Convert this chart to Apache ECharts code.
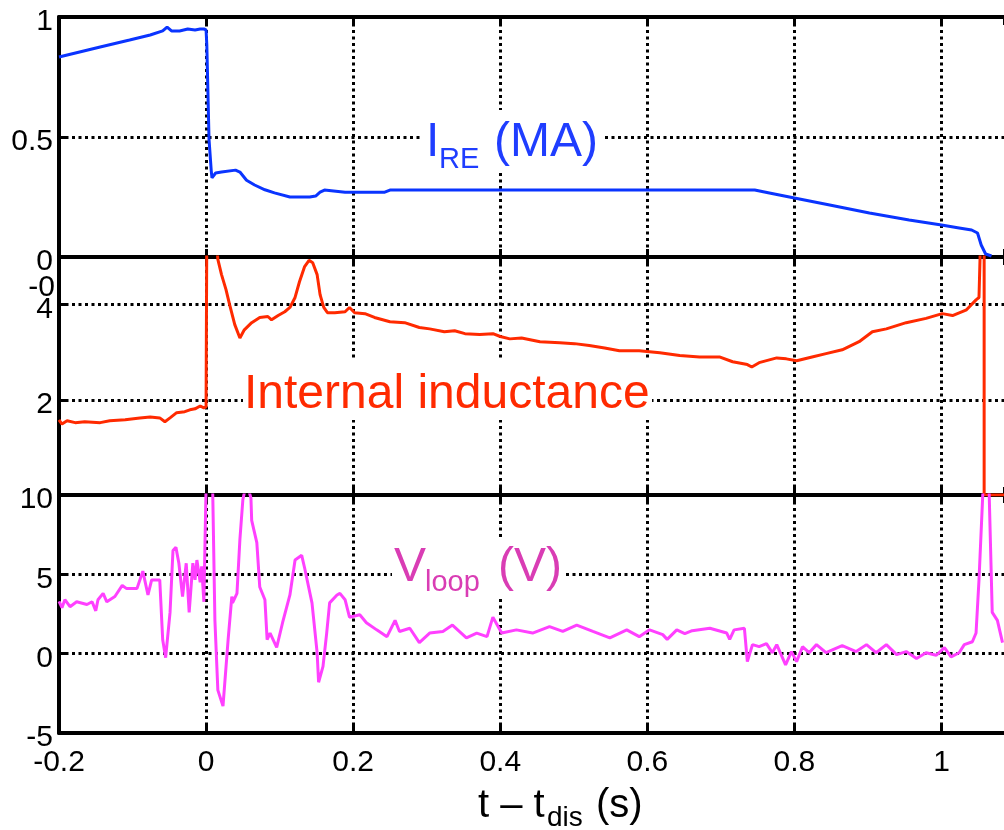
<!DOCTYPE html>
<html>
<head>
<meta charset="utf-8">
<script src="https://cdn.jsdelivr.net/npm/echarts@6/dist/echarts.min.js"></script>
<style>
  html, body { margin: 0; padding: 0; background: #fff; }
  #chart { width: 1004px; height: 830px; }
</style>
</head>
<body>
<div id="chart"></div>
<script>
  // runaway current I_RE (MA) vs t - t_dis (s)
  const iRe = [
    [-0.2, 0.833], [-0.144, 0.875], [-0.104, 0.904], [-0.076, 0.925], [-0.059, 0.942], [-0.053, 0.958],
    [-0.047, 0.942], [-0.036, 0.942], [-0.025, 0.95], [-0.015, 0.946], [-0.008, 0.95], [-0.003, 0.95],
    [0.0, 0.946], [0.001, 0.883], [0.004, 0.49], [0.007, 0.36], [0.008, 0.33], [0.013, 0.35],
    [0.021, 0.354], [0.04, 0.362], [0.046, 0.354], [0.055, 0.32], [0.066, 0.30], [0.08, 0.28],
    [0.093, 0.267], [0.114, 0.25], [0.141, 0.25], [0.149, 0.254], [0.155, 0.27], [0.161, 0.279],
    [0.189, 0.27], [0.243, 0.27], [0.25, 0.279], [0.671, 0.279], [0.746, 0.279], [0.766, 0.267],
    [0.8, 0.246], [0.848, 0.217], [0.902, 0.183], [0.956, 0.154], [1.0, 0.133], [1.024, 0.121],
    [1.041, 0.1125], [1.049, 0.1], [1.054, 0.05], [1.06, 0.0125], [1.068, 0.004]
  ];

  // internal inductance
  const li = [
    [-0.2, 1.58], [-0.196, 1.49], [-0.189, 1.56], [-0.178, 1.52], [-0.165, 1.54], [-0.144, 1.52],
    [-0.131, 1.56], [-0.11, 1.58], [-0.09, 1.62], [-0.076, 1.64], [-0.063, 1.62], [-0.056, 1.54],
    [-0.049, 1.62], [-0.04, 1.73], [-0.029, 1.75], [-0.022, 1.79], [-0.015, 1.81], [-0.008, 1.87],
    [-0.003, 1.83], [0.0, 1.85], [0.001, 5.6], [0.013, 5.6], [0.016, 4.95], [0.021, 4.63],
    [0.027, 4.32], [0.032, 4.0], [0.039, 3.58], [0.046, 3.3], [0.052, 3.47], [0.062, 3.62],
    [0.073, 3.73], [0.084, 3.75], [0.089, 3.68], [0.098, 3.77], [0.107, 3.85], [0.114, 3.94],
    [0.121, 4.15], [0.127, 4.48], [0.134, 4.8], [0.14, 4.93], [0.145, 4.88], [0.151, 4.63],
    [0.155, 4.21], [0.16, 3.94], [0.165, 3.83], [0.175, 3.83], [0.189, 3.85], [0.195, 3.94],
    [0.202, 3.83], [0.216, 3.81], [0.229, 3.73], [0.25, 3.64], [0.27, 3.62], [0.29, 3.52],
    [0.304, 3.49], [0.324, 3.43], [0.338, 3.45], [0.352, 3.39], [0.372, 3.37], [0.39, 3.39],
    [0.4, 3.33], [0.413, 3.28], [0.429, 3.3], [0.454, 3.22], [0.481, 3.2], [0.501, 3.18],
    [0.521, 3.14], [0.542, 3.09], [0.562, 3.03], [0.589, 3.03], [0.617, 2.99], [0.644, 2.93],
    [0.671, 2.9], [0.698, 2.9], [0.716, 2.8], [0.736, 2.74], [0.742, 2.69], [0.752, 2.78],
    [0.776, 2.88], [0.789, 2.86], [0.803, 2.82], [0.824, 2.9], [0.843, 2.97], [0.865, 3.05],
    [0.888, 3.22], [0.906, 3.43], [0.925, 3.49], [0.952, 3.62], [0.979, 3.71], [1.001, 3.81],
    [1.015, 3.77], [1.034, 3.89], [1.047, 4.1], [1.051, 4.15], [1.0535, 5.6], [1.058, 5.6],
    [1.058, 0], [1.085, 0]
  ];

  // loop voltage (V)
  const vLoop = [
    [-0.2, 3.3], [-0.196, 2.9], [-0.192, 3.4], [-0.185, 2.96], [-0.176, 3.27], [-0.162, 3.1],
    [-0.155, 3.27], [-0.15, 2.7], [-0.147, 3.4], [-0.14, 3.8], [-0.135, 3.27], [-0.124, 3.6],
    [-0.114, 4.3], [-0.108, 4.1], [-0.094, 4.1], [-0.086, 5.2], [-0.079, 3.7], [-0.074, 4.65],
    [-0.063, 4.65], [-0.059, 0.88], [-0.055, -0.25], [-0.049, 2.6], [-0.045, 6.5], [-0.041, 6.7],
    [-0.037, 5.7], [-0.032, 3.6], [-0.027, 5.7], [-0.023, 2.6], [-0.018, 5.7], [-0.015, 4.65],
    [-0.0125, 5.9], [-0.008, 4.5], [-0.006, 5.5], [-0.003, 3.27], [0.001, 13], [0.008, 13],
    [0.012, 2.1], [0.016, -2.3], [0.023, -3.3], [0.03, 0.9], [0.035, 3.6], [0.036, 3.2],
    [0.042, 3.8], [0.046, 7.2], [0.05, 9.7], [0.055, 10.8], [0.061, 9.8], [0.062, 8.4],
    [0.069, 7.0], [0.073, 4.2], [0.08, 3.4], [0.083, 0.88], [0.087, 1.3], [0.096, 0.4],
    [0.104, 1.95], [0.114, 3.7], [0.121, 5.9], [0.13, 6.2], [0.134, 5.4], [0.144, 3.2],
    [0.151, 0.06], [0.153, -1.8], [0.159, -0.8], [0.164, 1.3], [0.168, 3.2], [0.178, 3.7],
    [0.182, 3.8], [0.189, 3.4], [0.195, 2.3], [0.209, 2.45], [0.218, 1.95], [0.232, 1.5],
    [0.246, 1.07], [0.257, 2.1], [0.263, 1.4], [0.277, 1.6], [0.29, 0.7], [0.304, 1.3],
    [0.322, 1.4], [0.335, 1.8], [0.354, 1.0], [0.368, 1.3], [0.382, 1.07], [0.39, 2.3],
    [0.402, 1.3], [0.422, 1.5], [0.444, 1.3], [0.467, 1.7], [0.485, 1.4], [0.504, 1.8],
    [0.526, 1.4], [0.549, 1.0], [0.572, 1.5], [0.589, 1.07], [0.603, 1.5], [0.621, 1.2],
    [0.627, 0.9], [0.64, 1.5], [0.651, 1.26], [0.661, 1.45], [0.685, 1.6], [0.708, 1.3],
    [0.712, 0.9], [0.718, 1.5], [0.732, 1.6], [0.736, -0.5], [0.743, 0.57], [0.752, 0.44],
    [0.762, 0.63], [0.77, 0.06], [0.776, 0.57], [0.788, -0.7], [0.796, 0.13], [0.803, -0.5],
    [0.811, 0.44], [0.82, 0.06], [0.83, 0.57], [0.843, 0.06], [0.865, 0.5], [0.884, 0.13],
    [0.898, 0.57], [0.911, 0.06], [0.925, 0.57], [0.939, -0.06], [0.952, 0.13], [0.966, -0.3],
    [0.979, 0.06], [0.993, -0.1], [1.004, 0.38], [1.013, -0.2], [1.024, 0.06], [1.031, 0.57],
    [1.042, 0.75], [1.047, 1.3], [1.051, 4.65], [1.0585, 12.5], [1.0635, 12.5], [1.069, 2.6],
    [1.076, 2.1], [1.083, 0.7]
  ];

  const xTicks = [-0.2, 0, 0.2, 0.4, 0.6, 0.8, 1];
  const irTicks = [0, 0.5, 1];
  const liTicks = [2, 4];
  const vTicks = [-5, 0, 5, 10];

  const FONT = '"Liberation Sans", Arial, sans-serif';
  const dots = { color: '#000', width: 3, type: [3, 3.5] };
  const solid = { color: '#000', width: 4 };
  const tick = { show: true, inside: true, length: 8, lineStyle: { color: '#000', width: 3 } };

  const grids = [
    { left: 59, right: 0, top: 17, height: 240 },
    { left: 59, right: 0, top: 257, height: 238 },
    { left: 59, right: 0, top: 495, height: 238 }
  ];

  const onTick = (v, list) => list.some(t => Math.abs(t - v) < 1e-6);

  const xAxes = [];
  [0, 1, 2].forEach(i => {
    xAxes.push({
      type: 'value', gridIndex: i, position: 'bottom',
      min: -0.2, max: 1.085, interval: 0.2,
      axisLine: { show: true, onZero: false, lineStyle: solid },
      axisTick: tick,
      axisLabel: {
        show: i === 2, color: '#000', fontSize: 30, fontFamily: FONT, margin: 15,
        showMaxLabel: false,
        formatter: v => (onTick(v, xTicks) ? String(+v.toFixed(1)) : '')
      },
      splitLine: { show: true, showMaxLine: false, showMinLine: false, lineStyle: dots }
    });
  });
  [0, 1, 2].forEach(i => {
    xAxes.push({
      type: 'value', gridIndex: i, position: 'top',
      min: -0.2, max: 1.085, interval: 0.2,
      axisLine: { show: true, onZero: false, lineStyle: solid },
      axisTick: tick,
      axisLabel: { show: false },
      splitLine: { show: false }
    });
  });

  // y labels sit a little below their ticks, as in the original
  const yLabel = (list) => ({
    color: '#000', fontSize: 30, fontFamily: FONT, margin: 6,
    formatter: v => (onTick(v, list) ? '{d|' + v + '}' : ''),
    rich: { d: { fontSize: 30, fontFamily: FONT, color: '#000', padding: [10, 0, 0, 0] } }
  });

  const yAxes = [
    { type: 'value', gridIndex: 0, min: 0, max: 1, interval: 0.5, axisLabel: yLabel(irTicks) },
    { type: 'value', gridIndex: 1, min: 0, max: 5, interval: 2, axisLabel: yLabel(liTicks) },
    { type: 'value', gridIndex: 2, min: -5, max: 10, interval: 5, axisLabel: yLabel(vTicks) }
  ].map(a => Object.assign(a, {
    axisLine: { show: true, onZero: false, lineStyle: solid },
    axisTick: tick,
    splitLine: { show: true, lineStyle: dots }
  }));

  const line = (data, idx, color) => ({
    type: 'line', xAxisIndex: idx, yAxisIndex: idx, data: data,
    showSymbol: false, symbol: 'none', clip: true, silent: true, z: 3,
    lineStyle: { color: color, width: 3 }
  });

  // text with baseline at y
  const txt = (s, x, base, size, color, align) => ({
    type: 'text', x: x, y: base - 0.35 * size, z: 60,
    style: {
      text: s, fill: color, font: size + 'px ' + FONT,
      align: align || 'left', verticalAlign: 'middle',
      textAlign: align || 'left', textVerticalAlign: 'middle'
    }
  });
  const box = (x, y, w, h) => ({ type: 'rect', z: 55, shape: { x: x, y: y, width: w, height: h }, style: { fill: '#fff' } });

  const blueTxt = '#1f3dff';
  const redTxt = '#ff2a00';
  const pinkTxt = '#d93db4';

  const chart = echarts.init(document.getElementById('chart'), null, { renderer: 'canvas' });
  chart.setOption({
    animation: false,
    backgroundColor: '#fff',
    grid: grids,
    xAxis: xAxes,
    yAxis: yAxes,
    series: [
      line(iRe, 0, '#0a34ff'),
      line(li, 1, '#ff2a00'),
      line(vLoop, 2, '#ff40ff')
    ],
    graphic: [
      box(423, 110, 179, 60),
      txt('I', 426, 160, 48, blueTxt),
      txt('RE', 439, 170, 29, blueTxt),
      txt('(MA)', 494, 160, 48, blueTxt),
      box(243, 360, 409, 60),
      txt('Internal inductance', 244, 412, 48, redTxt),
      box(392, 537, 173, 60),
      txt('V', 394, 585, 48, pinkTxt),
      txt('loop', 425, 593, 29, pinkTxt),
      txt('(V)', 498, 585, 48, pinkTxt),
      txt('-0', 55, 298, 30, '#000', 'right'),
      txt('t \u2013 t', 478, 820, 40, '#000'),
      txt('dis', 547, 828, 28, '#000'),
      txt('(s)', 596, 820, 40, '#000')
    ]
  });
</script>
</body>
</html>
